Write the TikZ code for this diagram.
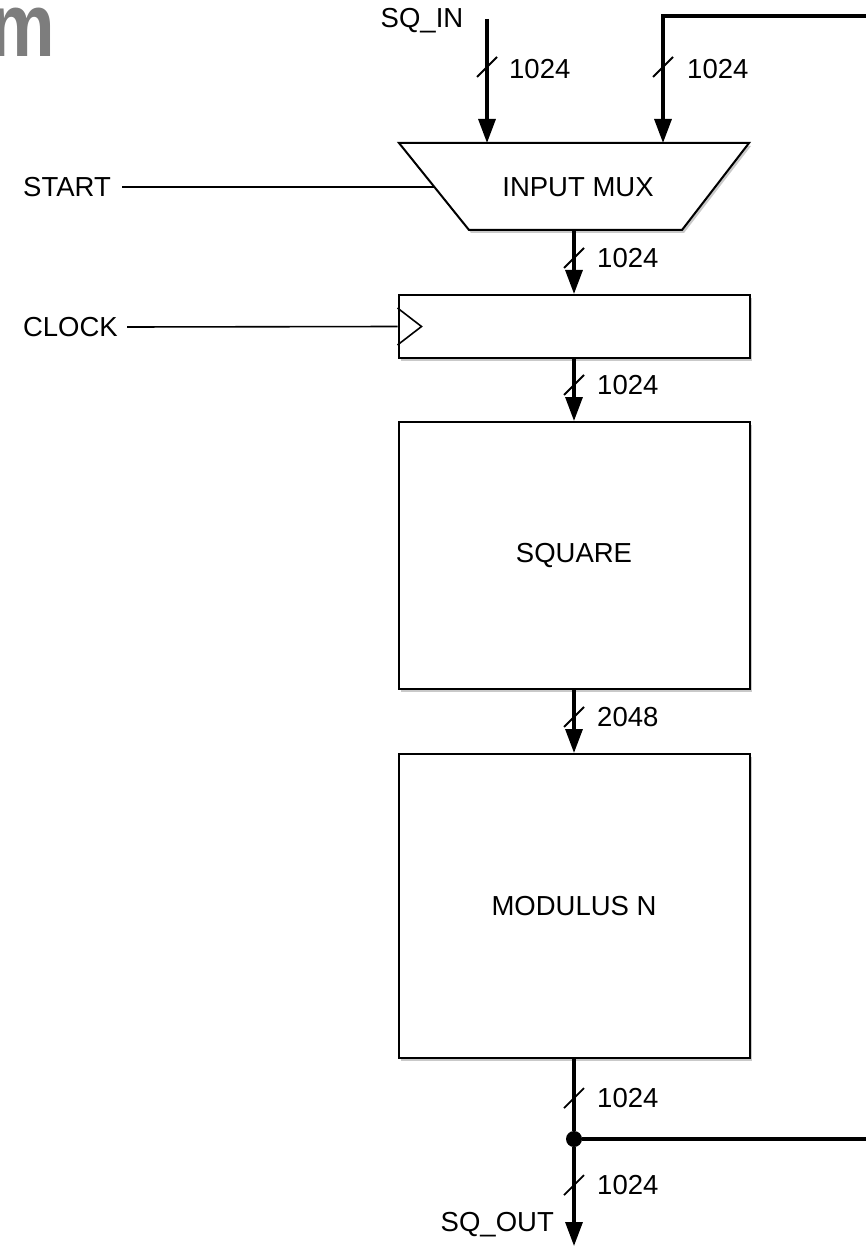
\documentclass[tikz,border=0pt]{standalone}
\usepackage{fontspec}
\setmainfont{Liberation Sans}
\usetikzlibrary{arrows.meta,shadows,calc}
\definecolor{bigm}{RGB}{125,125,125}
\begin{document}
\begin{tikzpicture}[x=1pt,y=-1pt,
  lbl/.style={font=\fontsize{27.5}{32}\selectfont, inner sep=0pt},
  box/.style={draw, line width=2pt, fill=white,
    drop shadow={shadow xshift=2pt,shadow yshift=-3pt,opacity=0.3,fill=black!70}},
  blk/.style={box, minimum width=351pt, inner sep=0pt},
  bus/.style={line width=3.2pt},
  busarrow/.style={bus, -{Triangle[width=17pt,length=24pt]}},
  wire/.style={line width=1.6pt},
  busslash/.pic={\draw[line width=1.8pt] (-10,10) -- (10,-10);},
  buslbl/.style={lbl, anchor=west}
]
\useasboundingbox (0,0) rectangle (866,1246);

% partial title glyph
\node[anchor=base east, inner sep=0pt, text=bigm, font=\fontsize{90}{90}\selectfont\bfseries] (title) at (55,57) {\scalebox{0.82}[1]{m}};

% input mux
\coordinate (mTL) at (399,143);
\coordinate (mTR) at (749,143);
\coordinate (mBR) at (682,230);
\coordinate (mBL) at (469,230);
\draw[box] (mTL) -- (mTR) -- (mBR) -- (mBL) -- cycle;
\node[lbl] (mux) at (578,187) {INPUT MUX};
\coordinate (muxA) at (487,143);
\coordinate (muxB) at (663,143);
\coordinate (muxO) at (574,230);
\coordinate (mS) at ($(mTL)!0.506!(mBL)$);

% blocks
\node[blk, minimum height=63pt] (reg) at (574,326.5) {};
\node[blk, minimum height=267pt] (sq) at (574,555.5) {};
\node[blk, minimum height=304pt] (mod) at (574,906) {};
\node[lbl] (sqt) at (sq.center) {SQUARE};
\node[lbl] (modt) at (mod.center) {MODULUS N};

% clock triangle
\draw[wire, line join=miter] ($(reg.north west)+(0,14)$) coordinate (ckA) -- ($(reg.west)+(24,0)$) coordinate (ckT) -- ($(reg.south west)+(0,-14)$) coordinate (ckB);

% side inputs
\node[lbl, anchor=east] (start) at (111,187) {START};
\node[lbl, anchor=east] (clock) at (118,327) {CLOCK};
\draw[wire] ([xshift=11pt]start.east) -- (mS);
\draw[wire] ([xshift=9pt]clock.east) -- (reg.west);

% top inputs
\node[lbl] (sqin) at (422,21) {SQ\_IN};
\coordinate (inA) at (487,19);
\coordinate (fbTop) at (866,16);
\coordinate (fbCorner) at (663,16);
\draw[busarrow] (inA) -- (muxA);
\draw[busarrow, line join=miter] (fbTop) -- (fbCorner) -- (muxB);
\pic at (487,67) {busslash};
\pic at (663,67) {busslash};
\node[buslbl] (l1) at (509,69) {1024};
\node[buslbl] (l2) at (687,69) {1024};

% main chain
\draw[busarrow] (muxO) -- (reg.north);
\pic at (574,258) {busslash};
\node[buslbl] (l3) at (597,258) {1024};

\draw[busarrow] (reg.south) -- (sq.north);
\pic at (574,385) {busslash};
\node[buslbl] (l4) at (597,385) {1024};

\draw[busarrow] (sq.south) -- (mod.north);
\pic at (574,717) {busslash};
\node[buslbl] (l5) at (597,717) {2048};

% output
\node[circle, fill=black, minimum size=16pt, inner sep=0pt] (j) at (574,1139) {};
\coordinate (fbRight) at (866,1139);
\coordinate (outEnd) at (574,1246);
\draw[bus] (mod.south) -- (j);
\draw[bus] (j) -- (fbRight);
\draw[busarrow] (j) -- (outEnd);
\pic at (574,1098) {busslash};
\pic at (574,1185) {busslash};
\node[buslbl] (l6) at (597,1098) {1024};
\node[buslbl] (l7) at (597,1185) {1024};
\node[lbl, anchor=east] (sqout) at (554,1225) {SQ\_OUT};
\end{tikzpicture}
\end{document}
